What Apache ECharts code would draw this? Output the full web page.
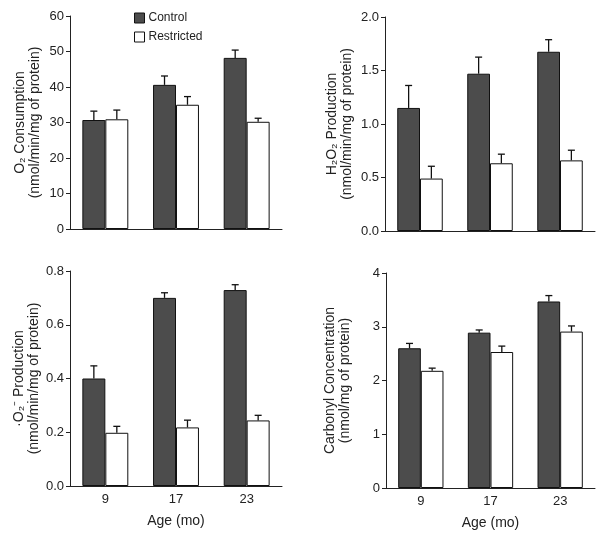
<!DOCTYPE html>
<html>
<head>
<meta charset="utf-8">
<script src="https://cdn.jsdelivr.net/npm/echarts@6/dist/echarts.min.js"></script>
<style>html,body{margin:0;padding:0;background:#fff}#c{width:604px;height:535px}</style>
</head>
<body>
<div id="c"></div>
<script>
var categories = ['9', '17', '23'];
var seriesNames = ['Control', 'Restricted'];

var o2Control = [30.7, 40.6, 48.2];
var o2ControlErr = [2.5, 2.5, 2.2];
var o2Restricted = [30.9, 35.0, 30.2];
var o2RestrictedErr = [2.6, 2.3, 1.0];

var h2o2Control = [1.15, 1.47, 1.675];
var h2o2ControlErr = [0.21, 0.155, 0.113];
var h2o2Restricted = [0.49, 0.633, 0.66];
var h2o2RestrictedErr = [0.115, 0.085, 0.095];

var supControl = [0.40, 0.70, 0.729];
var supControlErr = [0.047, 0.019, 0.02];
var supRestricted = [0.198, 0.218, 0.244];
var supRestrictedErr = [0.024, 0.027, 0.019];

var carbControl = [2.60, 2.89, 3.47];
var carbControlErr = [0.09, 0.05, 0.11];
var carbRestricted = [2.18, 2.53, 2.91];
var carbRestrictedErr = [0.05, 0.11, 0.105];

var panels = [
  {title: 'O\u2082 Consumption\n(nmol/min/mg of protein)', max: 60, interval: 10, dec: 0,
   c: o2Control, ce: o2ControlErr, r: o2Restricted, re: o2RestrictedErr},
  {title: 'H\u2082O\u2082 Production\n(nmol/min/mg of protein)', max: 2, interval: 0.5, dec: 1,
   c: h2o2Control, ce: h2o2ControlErr, r: h2o2Restricted, re: h2o2RestrictedErr},
  {title: '\u00B7O\u2082\u207B Production\n(nmol/min/mg of protein)', max: 0.8, interval: 0.2, dec: 1,
   c: supControl, ce: supControlErr, r: supRestricted, re: supRestrictedErr},
  {title: 'Carbonyl Concentration\n(nmol/mg of protein)', max: 4, interval: 1, dec: 0,
   c: carbControl, ce: carbControlErr, r: carbRestricted, re: carbRestrictedErr}
];

var grids = [
  {left: 70, top: 16, width: 212, height: 213},
  {left: 385, top: 17, width: 210, height: 214},
  {left: 70, top: 271, width: 212, height: 215},
  {left: 386, top: 273, width: 209, height: 215}
];
var nameGaps = [27, 30, 27, 33];

var FONT = 'Liberation Sans, Arial, sans-serif';
var DARK = '#4c4c4c';
var CAT_GAP = 0.35;

var xAxes = [], yAxes = [], series = [];
panels.forEach(function (p, i) {
  var bottom = i >= 2;
  xAxes.push({
    type: 'category', gridIndex: i, data: categories,
    axisLine: {show: true, lineStyle: {color: '#222', width: 1}},
    axisTick: {show: false},
    axisLabel: {show: bottom, color: '#222', fontSize: 13, fontFamily: FONT, margin: 7},
    name: bottom ? 'Age (mo)' : '', nameLocation: 'middle', nameGap: 28,
    nameTextStyle: {color: '#222', fontSize: 14, fontFamily: FONT}
  });
  yAxes.push({
    type: 'value', gridIndex: i, min: 0, max: p.max, interval: p.interval,
    splitLine: {show: false},
    axisLine: {show: true, lineStyle: {color: '#222', width: 1}},
    axisTick: {show: true, length: 4, lineStyle: {color: '#222'}},
    axisLabel: {color: '#222', fontSize: 13, fontFamily: FONT, margin: 6,
      formatter: (function (d) { return function (v) { return v.toFixed(d); }; })(p.dec)},
    name: p.title, nameLocation: 'middle', nameRotate: 90, nameGap: nameGaps[i],
    nameTextStyle: {color: '#222', fontSize: 14, fontFamily: FONT, lineHeight: 15}
  });
  series.push({
    name: 'Control', type: 'bar', xAxisIndex: i, yAxisIndex: i, data: p.c,
    barGap: '0%', barCategoryGap: (CAT_GAP * 100) + '%',
    itemStyle: {color: DARK, borderColor: '#111', borderWidth: 1},
    emphasis: {disabled: true}, silent: true
  });
  series.push({
    name: 'Restricted', type: 'bar', xAxisIndex: i, yAxisIndex: i, data: p.r,
    barGap: '0%', barCategoryGap: (CAT_GAP * 100) + '%',
    itemStyle: {color: '#fff', borderColor: '#111', borderWidth: 1},
    emphasis: {disabled: true}, silent: true
  });
  var errData = [];
  for (var k = 0; k < categories.length; k++) {
    errData.push([k, p.c[k], p.c[k] + p.ce[k], -1]);
    errData.push([k, p.r[k], p.r[k] + p.re[k], 1]);
  }
  series.push({
    type: 'custom', xAxisIndex: i, yAxisIndex: i, data: errData, silent: true, z: 5,
    encode: {x: 0, y: [1, 2]},
    renderItem: function (params, api) {
      var cat = api.value(0);
      var base = api.coord([cat, api.value(1)]);
      var top = api.coord([cat, api.value(2)]);
      var catW = api.size([1, 0])[0];
      var barW = catW * (1 - CAT_GAP) / 2;
      var x = base[0] + api.value(3) * barW / 2;
      var cap = 3.5;
      var st = {stroke: '#111', lineWidth: 1.3};
      return {type: 'group', children: [
        {type: 'line', shape: {x1: x, y1: base[1], x2: x, y2: top[1]}, style: st},
        {type: 'line', shape: {x1: x - cap, y1: top[1], x2: x + cap, y2: top[1]}, style: st}
      ]};
    }
  });
});

var chart = echarts.init(document.getElementById('c'), null, {renderer: 'canvas'});
chart.setOption({
  animation: false,
  backgroundColor: '#fff',
  textStyle: {fontFamily: FONT},
  legend: {
    data: [
      {name: 'Control', itemStyle: {color: DARK, borderColor: '#111', borderWidth: 1}},
      {name: 'Restricted', itemStyle: {color: '#fff', borderColor: '#111', borderWidth: 1}}
    ],
    orient: 'vertical', left: 129, top: 7, itemWidth: 10, itemHeight: 10, itemGap: 7,
    icon: 'rect', selectedMode: false,
    textStyle: {color: '#222', fontSize: 12, fontFamily: FONT, padding: [0, 0, 0, -1]}
  },
  grid: grids,
  xAxis: xAxes,
  yAxis: yAxes,
  series: series
});
</script>
</body>
</html>
